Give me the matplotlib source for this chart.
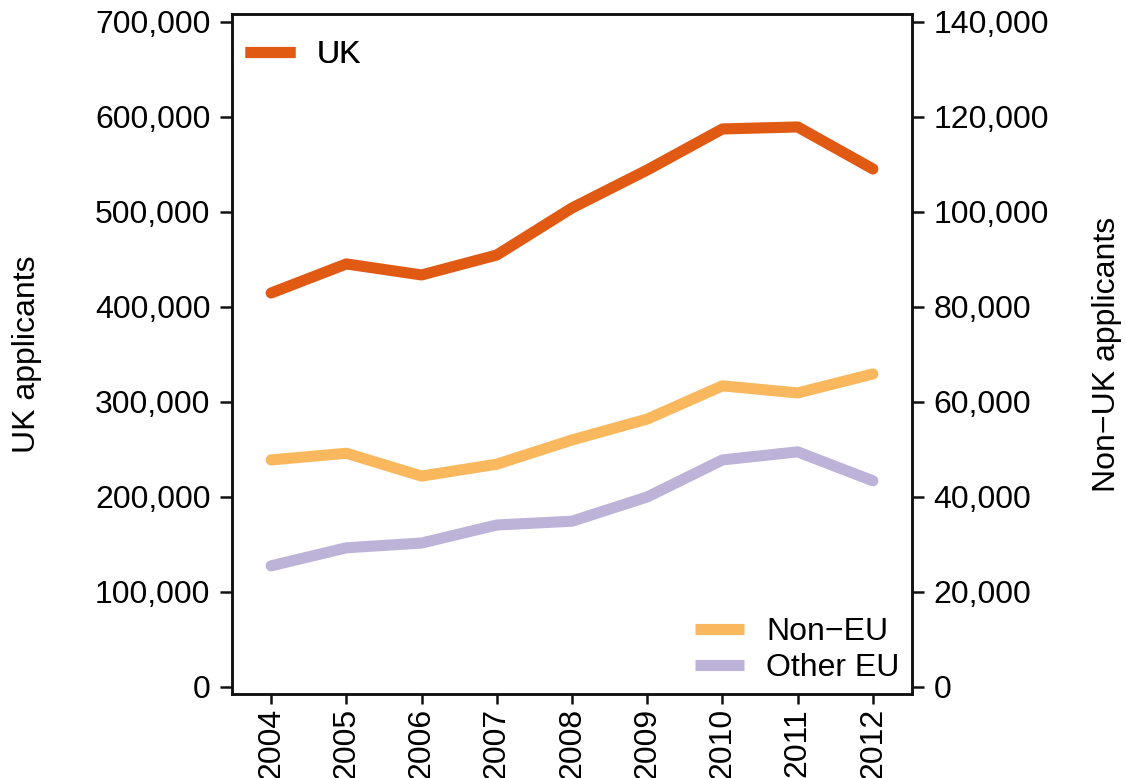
import matplotlib
matplotlib.use("Agg")
import matplotlib.pyplot as plt
from matplotlib.ticker import FuncFormatter

plt.rcParams['font.family'] = ['Liberation Sans', 'DejaVu Sans']

years = [2004, 2005, 2006, 2007, 2008, 2009, 2010, 2011, 2012]
uk = [414700, 445300, 433700, 454700, 504200, 544200, 587400, 589500, 545300]
non_eu = [47800, 49200, 44400, 46900, 52000, 56400, 63400, 61900, 65900]
other_eu = [25500, 29300, 30300, 34100, 34900, 40000, 47800, 49500, 43400]

c_uk = '#e05a14'
c_noneu = '#fab85e'
c_other = '#bdb3d8'

fig = plt.figure(figsize=(11.26, 7.78), dpi=100)
ax = fig.add_axes([232/1126, 84/778, 680/1126, 680/778])
ax2 = ax.twinx()

lw = 8.0
kw = dict(lw=lw, solid_capstyle='round', solid_joinstyle='round')
l_uk, = ax.plot(years, uk, color=c_uk, label='UK', **kw)
l_ne, = ax2.plot(years, non_eu, color=c_noneu, label='Non\u2212EU', **kw)
l_oe, = ax2.plot(years, other_eu, color=c_other, label='Other EU', **kw)

ax.set_xlim(2003.48, 2012.52)
ax.set_ylim(-7400, 708400)
ax2.set_ylim(-1480, 141680)
ax.set_yticks(range(0, 700001, 100000))
ax2.set_yticks(range(0, 140001, 20000))
ax.set_xticks(years)
ax.set_xticklabels([str(y) for y in years], rotation=90)

fmt = FuncFormatter(lambda v, p: f"{int(v):,}")
ax.yaxis.set_major_formatter(fmt)
ax2.yaxis.set_major_formatter(fmt)

fs = 23
for a in (ax, ax2):
    a.tick_params(axis='y', labelsize=fs, length=8.5, width=1.8, color='#111111', pad=7)
    a.tick_params(axis='x', labelsize=fs, length=7, width=1.8, color='#111111', pad=3)
    for s in a.spines.values():
        s.set_linewidth(1.8)
        s.set_color('#111111')

ax.set_ylabel('UK applicants', fontsize=fs)
ax2.set_ylabel('Non\u2212UK applicants', fontsize=fs)
ax.yaxis.set_label_coords(-0.279, 0.5)
ax2.yaxis.set_label_coords(1.265, 0.5)

leg1 = ax.legend(handles=[l_uk], loc='upper left', frameon=False, fontsize=fs,
                 handlelength=1.55, handletextpad=0.7, borderaxespad=0, borderpad=0,
                 bbox_to_anchor=(13/680, 0.962))
for h in leg1.get_lines():
    h.set_solid_capstyle('butt')
ax.add_artist(leg1)
leg2 = ax2.legend(handles=[l_ne, l_oe], loc='lower right', frameon=False, fontsize=fs,
                  handlelength=1.55, handletextpad=0.7, borderaxespad=0, borderpad=0,
                  labelspacing=0.2, bbox_to_anchor=(0.982, 0.016))
for h in leg2.get_lines():
    h.set_solid_capstyle('butt')

fig.savefig('out.png', dpi=100)
